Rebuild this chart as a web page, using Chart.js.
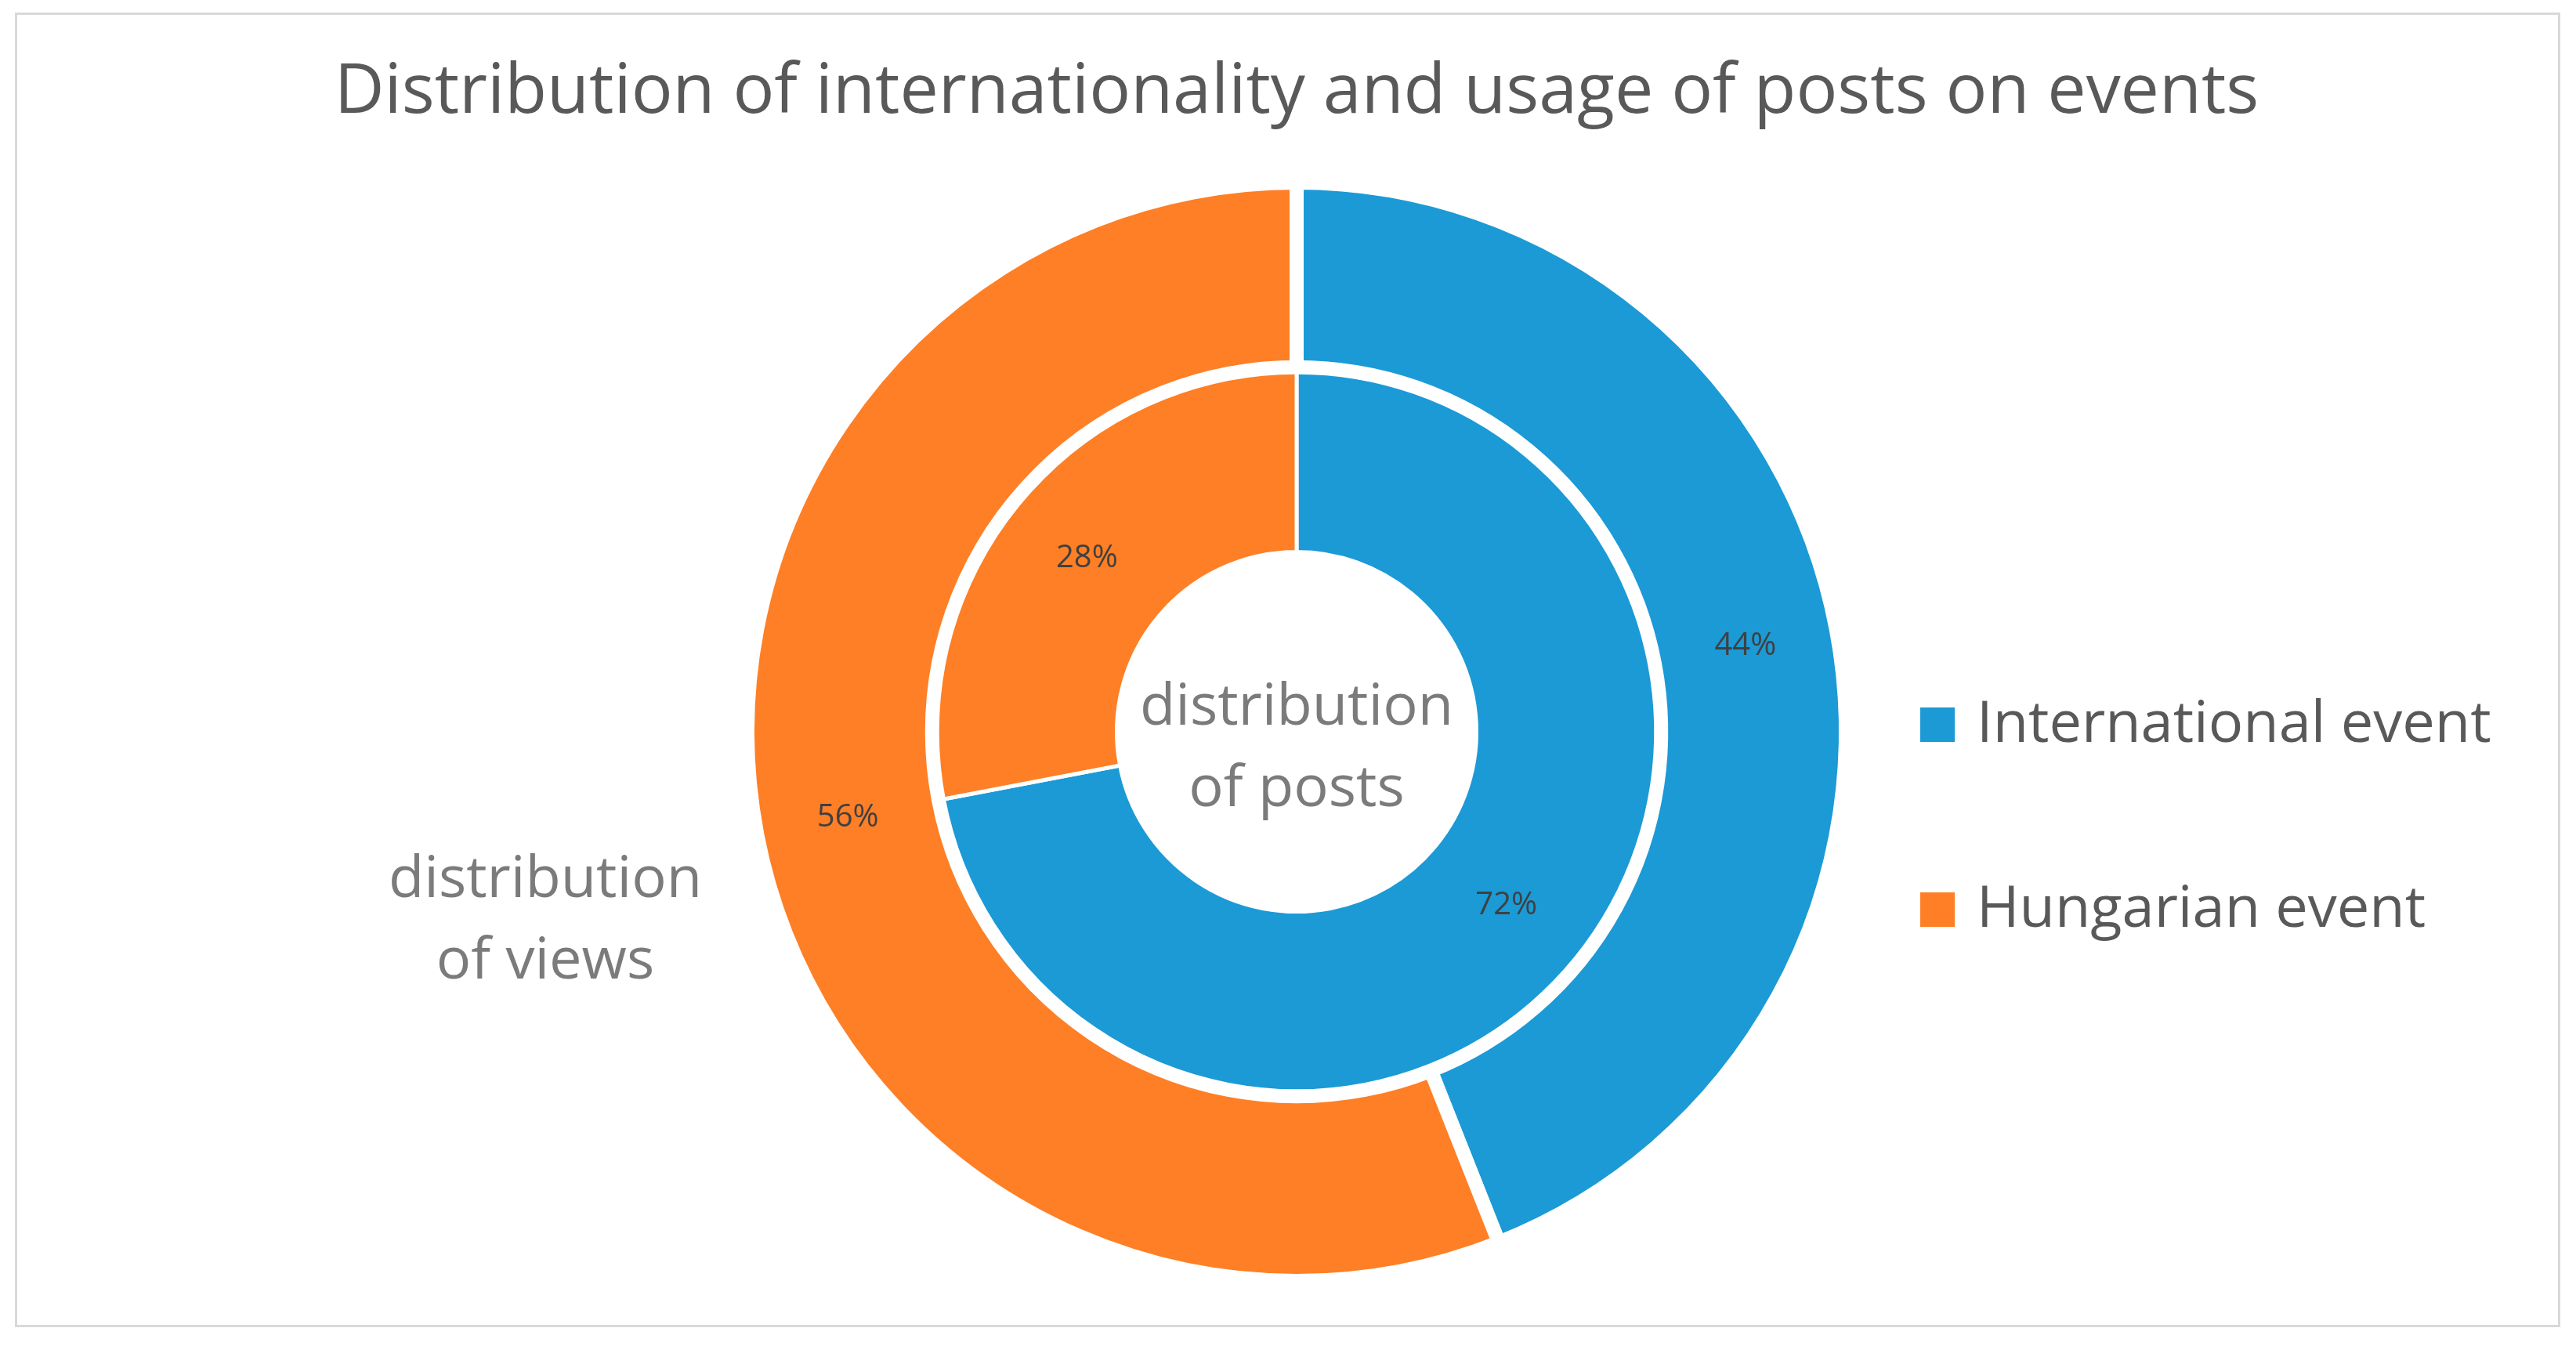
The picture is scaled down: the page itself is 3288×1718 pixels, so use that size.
<!DOCTYPE html>
<html>
<head>
<meta charset="utf-8">
<title>Distribution of internationality and usage of posts on events</title>
<script src="https://cdn.jsdelivr.net/npm/chart.js@4.4.1/dist/chart.umd.min.js"></script>
<style>
  html, body { margin:0; padding:0; background:#fff; }
  #frame { position:absolute; left:19px; top:16px; width:3243px; height:1672px; border:3px solid #d9d9d9; }
  #wrap { position:absolute; left:0; top:0; width:3288px; height:1718px; }
</style>
</head>
<body>
<div id="frame"></div>
<div id="wrap"><canvas id="plot"></canvas></div>
<script>
var categories = ['International event', 'Hungarian event'];
var viewsShare = [44, 56];   // outer ring, %
var postsShare = [72, 28];   // inner ring, %
var viewsName = ['distribution', 'of views'];
var postsName = ['distribution', 'of posts'];
var sliceColors = ['#1b9ad6', '#fe7f26'];
var chartTitle = 'Distribution of internationality and usage of posts on events';

Chart.defaults.font.family = '"Open Sans", "Noto Sans", sans-serif';

// percentage in the middle of every slice
var pctLabels = {
    id: 'pctLabels',
    afterDatasetsDraw: function(chart){
        var ctx = chart.ctx;
        ctx.save();
        ctx.font = '40px "Open Sans"';
        ctx.fillStyle = '#404040';
        ctx.textAlign = 'center';
        ctx.textBaseline = 'middle';
        chart.data.datasets.forEach(function(ds, i){
            chart.getDatasetMeta(i).data.forEach(function(arc, j){
                var p = arc.getCenterPoint();
                ctx.fillText(ds.data[j] + '%', p.x, p.y);
            });
        });
        ctx.restore();
    }
};

// ring names: posts in the hole, views off to the left
var ringNames = {
    id: 'ringNames',
    afterDraw: function(chart){
        var ctx = chart.ctx;
        var arc = chart.getDatasetMeta(1).data[0];
        var lines = function(txt, x, y){
            txt.forEach(function(t, k){ ctx.fillText(t, x, y + k*104); });
        };
        ctx.save();
        ctx.font = '74px "Open Sans"';
        ctx.fillStyle = '#7b7b7b';
        ctx.textAlign = 'center';
        ctx.textBaseline = 'alphabetic';
        lines(postsName, arc.x, arc.y - 9);
        lines(viewsName, 696, 1145);
        ctx.restore();
    }
};

// legend on the right
var sideLegend = {
    id: 'sideLegend',
    afterDraw: function(chart){
        var ctx = chart.ctx;
        var cols = chart.data.datasets[0].backgroundColor;
        ctx.save();
        ctx.font = '74px "Open Sans"';
        ctx.textAlign = 'left';
        ctx.textBaseline = 'alphabetic';
        chart.data.labels.forEach(function(lab, i){
            var top = 903 + i*236;
            ctx.fillStyle = cols[i];
            ctx.fillRect(2451, top, 44, 44);
            ctx.fillStyle = '#595959';
            ctx.fillText(lab, 2523, top + 44);
        });
        ctx.restore();
    }
};

var ctx = document.getElementById('plot').getContext('2d');
var chart = new Chart(ctx, {
    type: 'doughnut',
    data: {
        labels: categories,
        datasets: [{
            label: 'distribution of views',
            data: viewsShare,
            backgroundColor: sliceColors,
            borderColor: '#ffffff',
            borderWidth: 18,
            hoverBorderWidth: 18
        }, {
            label: 'distribution of posts',
            data: postsShare,
            backgroundColor: sliceColors,
            borderColor: '#ffffff',
            borderWidth: 5,
            hoverBorderWidth: 5
        }]
    },
    options: {
        responsive: true,
        maintainAspectRatio: false,
        animation: false,
        events: [],
        cutout: '32.74%',
        layout: { padding: { left: 22, right: 0, top: 0, bottom: 74 } },
        plugins: {
            legend: { display: false },
            tooltip: { enabled: false },
            title: {
                display: true,
                text: chartTitle,
                color: '#595959',
                font: { size: 88, weight: 'normal', lineHeight: 1.2 },
                padding: { top: 66, bottom: 52.4 }
            }
        }
    },
    plugins: [pctLabels, ringNames, sideLegend]
});
</script>
</body>
</html>
